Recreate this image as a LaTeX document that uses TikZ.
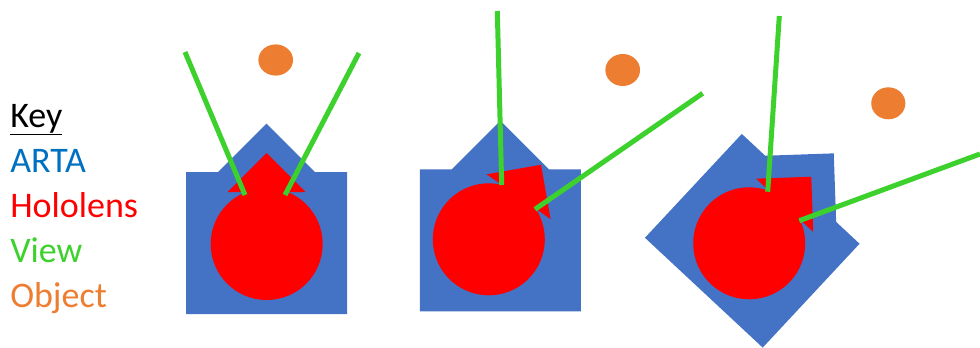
\documentclass[tikz,border=0pt]{standalone}
\usepackage{fontspec}
\setmainfont{Carlito}
\usetikzlibrary{positioning}
\definecolor{ArtaBlue} {HTML}{4472C4}
\definecolor{KeyBlue}  {HTML}{0070C0}
\definecolor{HoloRed}  {HTML}{FF0000}
\definecolor{ViewGreen}{HTML}{3CD12C}
\definecolor{ObjOrange}{HTML}{ED7D31}
\tikzset{
  arta/.style={fill=ArtaBlue},
  holo/.style={fill=HoloRed},
  view/.style={draw=ViewGreen,line width=3.75pt},
  obj/.style={fill=ObjOrange},
  keytxt/.style={anchor=base west,inner sep=0pt,
                 font=\fontsize{27}{32}\selectfont\color{#1}},
}

\begin{document}
\begin{tikzpicture}[x=0.75pt,y=-0.75pt]
  \useasboundingbox (0,0) rectangle (980,347);

  \node[keytxt=black]     (key)   at (10,127){\underline{Key}};
  \node[keytxt=KeyBlue]   (kArta) at (10,172){ARTA};
  \node[keytxt=HoloRed]   (kHolo) at (10,217){Hololens};
  \node[keytxt=ViewGreen] (kView) at (10,262){View};
  \node[keytxt=ObjOrange] (kObj)  at (10,307){Object};

  % ARTA bodies
  \begin{scope}[shift={(266.5,243)}]
    \fill[arta] (-80.5,71) -- (-80.5,-71) -- (-48.5,-71) -- (0,-119.5)
      -- (48.5,-71) -- (80.5,-71) -- (80.5,71) -- cycle;
  \end{scope}
  \begin{scope}[shift={(500.3,240.3)}]
    \fill[arta] (-80.5,71) -- (-80.5,-71) -- (-48.5,-71) -- (0,-119.5)
      -- (48.5,-71) -- (80.5,-71) -- (80.5,71) -- cycle;
  \end{scope}
  \begin{scope}[shift={(752.25,240.75)},rotate=-43]
    \fill[arta] (-80.5,71) -- (-80.5,-71) -- (-48.5,-71) -- (0,-119.5)
      -- (48.5,-71) -- (80.5,-71) -- (80.5,71) -- cycle;
  \end{scope}

  % Hololens
  \begin{scope}[shift={(266.7,244)}]
    \fill[holo] (0,0) circle (42pt);
    \fill[holo] (-39,-52) -- (0,-91) -- (39,-52) -- cycle;
  \end{scope}
  \begin{scope}[shift={(488.8,239.3)},rotate=-35]
    \fill[holo] (0,0) circle (42pt);
    \fill[holo] (-39,-52) -- (0,-91) -- (39,-52) -- cycle;
  \end{scope}
  \begin{scope}[shift={(749.2,243.3)},rotate=-43]
    \fill[holo] (0,0) circle (42pt);
    \fill[holo] (-39,-52) -- (0,-91) -- (39,-52) -- cycle;
  \end{scope}

  % objects
  \fill[obj] (275.7,60)  ellipse [x radius=13pt,y radius=11.7pt];
  \fill[obj] (622.7,70)  ellipse [x radius=13pt,y radius=12pt];
  \fill[obj] (888.3,103.3) ellipse [x radius=12.8pt,y radius=12pt];

  % views
  \coordinate (v1l) at (245,195);   \coordinate (e1l) at (185,52);
  \coordinate (v1r) at (285,195);   \coordinate (e1r) at (359,53);
  \coordinate (v2u) at (501.7,185); \coordinate (e2u) at (497.3,11);
  \coordinate (v2r) at (535,209.3); \coordinate (e2r) at (702.7,93.3);
  \coordinate (v3u) at (767.7,191.7); \coordinate (e3u) at (779.3,16);
  \coordinate (v3r) at (799.3,220.7); \coordinate (e3r) at (980,154);

  \draw[view] (v1l) -- (e1l);
  \draw[view] (v1r) -- (e1r);
  \draw[view] (v2u) -- (e2u);
  \draw[view] (v2r) -- (e2r);
  \draw[view] (v3u) -- (e3u);
  \draw[view] (v3r) -- (e3r);

\end{tikzpicture}
\end{document}
